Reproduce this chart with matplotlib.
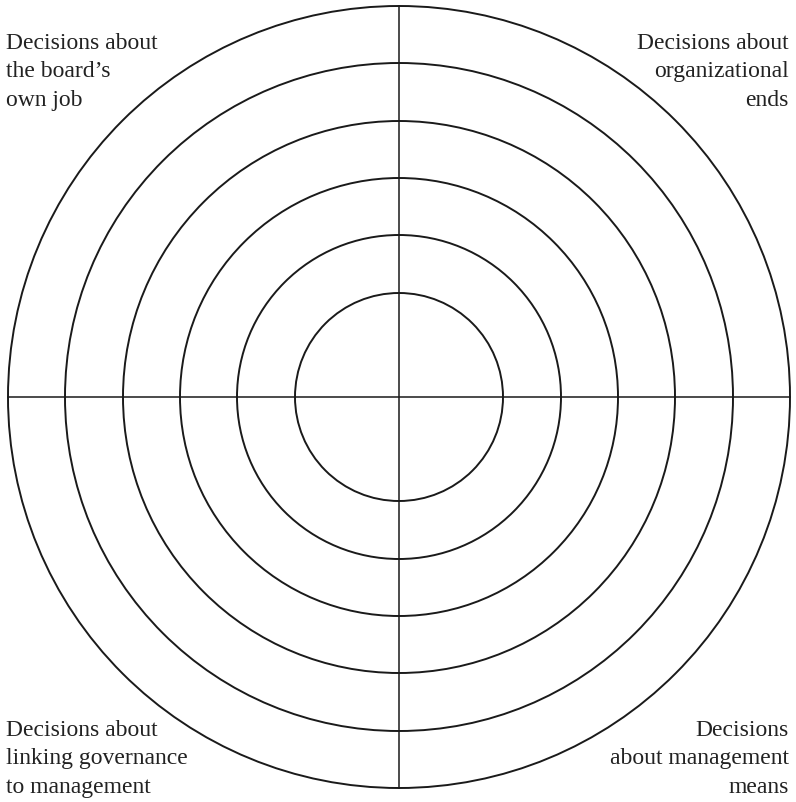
import matplotlib.pyplot as plt
from matplotlib.patches import Circle

# diagram geometry (pixel units)
center = (399, 397)
radii = [104, 162, 219, 276, 334, 391]

labels = [
    "Decisions about\nthe board\u2019s\nown job",
    "Decisions about\norganizational\nends",
    "Decisions about\nlinking governance\nto management",
    "Decisions\nabout management\nmeans",
]
# x, baseline of the last line, alignment
label_pos = [(6, 106, 'left'), (789, 106, 'right'), (6, 793, 'left'), (789, 793, 'right')]

fig = plt.figure(figsize=(7.96, 8.02), dpi=100)
ax = fig.add_axes([0, 0, 1, 1])
ax.set_xlim(0, 796)
ax.set_ylim(802, 0)
ax.axis('off')

for r in radii:
    ax.add_patch(Circle(center, r, fill=False, edgecolor='#1a1a1a', linewidth=1.4))

R = max(radii)
cx, cy = center
ax.plot([cx - R, cx + R], [cy, cy], color='#1a1a1a', linewidth=1.1)
ax.plot([cx, cx], [cy - R, cy + R], color='#1a1a1a', linewidth=1.1)

for text, (x, y, ha) in zip(labels, label_pos):
    ax.text(x, y, text, ha=ha, va='baseline', multialignment=ha,
            fontsize=17, family='Liberation Serif', color='#222222',
            linespacing=1.47)

fig.savefig('out.png', dpi=100)
